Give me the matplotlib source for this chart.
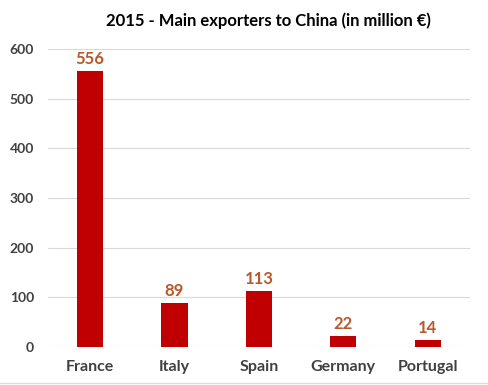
import matplotlib
matplotlib.use("Agg")
import matplotlib.pyplot as plt
from matplotlib.lines import Line2D

countries = ["France", "Italy", "Spain", "Germany", "Portugal"]
exports = [556, 89, 113, 22, 14]
yticks = [0, 100, 200, 300, 400, 500, 600]

plt.rcParams['font.family'] = ['Lato', 'DejaVu Sans']

fig = plt.figure(figsize=(4.88, 3.85), dpi=100)
ax = fig.add_axes([0.098, 0.0987, 0.865, 0.774])

x = range(len(countries))
ax.bar(x, exports, width=0.31, color='#C00000', zorder=3)
for xi, v in zip(x, exports):
    ax.text(xi, v + 8, str(v), ha='center', va='bottom', fontsize=12,
            fontweight='bold', color='#B8582B')

ax.set_xlim(-0.5, len(countries) - 0.5)
ax.set_ylim(0, 600)
ax.set_yticks(yticks)
ax.set_yticklabels([str(t) for t in yticks], fontsize=10, fontweight='bold', color='#404040')
ax.set_xticks(list(x))
ax.set_xticklabels(countries, fontsize=11.5, fontweight='bold', color='#404040')
ax.tick_params(axis='both', length=0)
ax.tick_params(axis='y', pad=10)
ax.tick_params(axis='x', pad=9)
ax.grid(axis='y', color='#D9D9D9', linewidth=0.8, zorder=0)
for s in ax.spines.values():
    s.set_visible(False)

fig.text(0.55, 0.945, "2015 - Main exporters to China (in million \u20ac)",
         ha='center', va='center', fontsize=12, fontweight='bold', color='black')

# faint border line at the bottom of the image
fig.add_artist(Line2D([0, 1], [0.006, 0.006], transform=fig.transFigure,
                      color='#DDDDDD', linewidth=1))

fig.savefig("out.png", dpi=100)
